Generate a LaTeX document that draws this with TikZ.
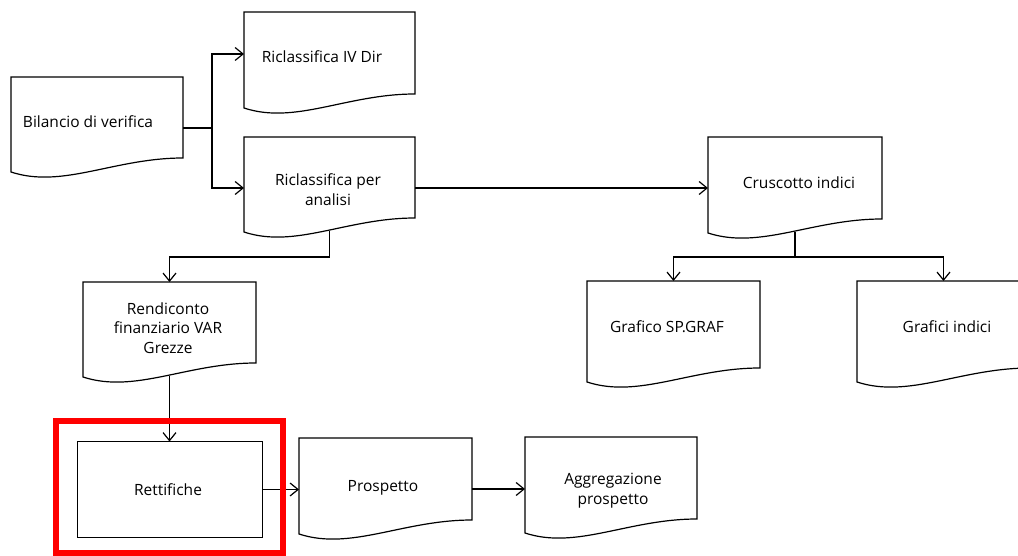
\documentclass[tikz,border=0pt]{standalone}
\usepackage{fontspec}
\setmainfont{Open Sans}
\usetikzlibrary{calc,arrows.meta}
\newcommand\docoutline[1]{\draw[line] (#1.north west) -- (#1.north east) -- (#1.south east)
  .. controls ($(#1.south west)!0.6!(#1.south east)$) and ($(#1.south west)!0.3!(#1.south east)+(0,-31)$)
  .. ($(#1.south west)+(0,-14)$) -- cycle;}
\begin{document}
\begin{tikzpicture}[x=1pt,y=1pt,
  line/.style={draw=black, line width=1.2pt, line join=miter},
  arr/.style={line, -{Straight Barb[length=8pt,width=13pt]}},
  box/.style={inner sep=0pt, outer sep=0pt},
  txt/.style={font=\fontsize{15.5}{19.5}\selectfont, align=center, inner sep=0pt},
  hl/.style={draw=red, line width=6pt, inner sep=0pt}]
\useasboundingbox (0,0) rectangle (1018,-556);
\clip (0,0) rectangle (1018,-556);

% boxes
\node[box, minimum width=172pt, minimum height=81pt] (bil)   at (97,-117.5) {};
\node[box, minimum width=171pt, minimum height=82pt] (ivdir) at (329.5,-53) {};
\node[box, minimum width=171pt, minimum height=81pt] (ricl)  at (329.5,-177.5) {};
\node[box, minimum width=174pt, minimum height=82pt] (crusc) at (795,-178) {};
\node[box, minimum width=173pt, minimum height=81pt] (rend)  at (169.5,-322.5) {};
\node[box, minimum width=173pt, minimum height=87pt] (graf)  at (673.5,-324.5) {};
\node[box, minimum width=173pt, minimum height=87pt] (grind) at (943.5,-324.5) {};
\node[box, draw, line width=1pt, minimum width=185pt, minimum height=96pt] (rett) at (169.5,-489.5) {};
\node[box, minimum width=173pt, minimum height=82pt] (pros)  at (385.5,-479) {};
\node[box, minimum width=172pt, minimum height=82pt] (aggr)  at (611,-478) {};

\foreach \n in {bil,ivdir,ricl,crusc,rend,graf,grind,pros,aggr} {\docoutline{\n}}

% texts
\node[txt] (bilt)   at (88,-122)    {Bilancio di verifica};
\node[txt] (ivdirt) at (322,-57)    {Riclassifica IV Dir};
\node[txt] (riclt)  at (328,-189.5) {Riclassifica per\\analisi};
\node[txt] (crusct) at (799,-183)   {Cruscotto indici};
\node[txt] (rendt)  at (168,-328)   {Rendiconto\\finanziario VAR\\Grezze};
\node[txt] (graft)  at (667,-327)   {Grafico SP.GRAF};
\node[txt] (grindt) at (947,-327)   {Grafici indici};
\node[txt] (rettt)  at (168,-490)   {Rettifiche};
\node[txt] (prost)  at (383,-488)   {Prospetto};
\node[txt] (aggrt)  at (613,-490.5) {Aggregazione\\prospetto};

% connector end points on the shapes
\coordinate (bilout)  at ($(bil.east)+(0,-10.5)$);
\coordinate (riclout) at ($(ricl.east)+(0,-10.5)$);
\coordinate (prosout) at ($(pros.east)+(0,-10)$);

% connectors
\draw[arr] (bilout) -- ++(29,0) |- ($(ivdir.west)+(0,-1)$);
\draw[arr] (bilout) -- ++(29,0) |- ($(ricl.west)+(0,-10.5)$);
\draw[arr] (riclout) -- (riclout -| crusc.west);
\draw[arr] ($(ricl.south)+(0,-13)$) -- ++(0,-26) -| (rend.north);
\draw[arr] ($(crusc.south)+(0,-13)$) -- ++(0,-25) -| (graf.north);
\draw[arr] ($(crusc.south)+(0,-13)$) -- ++(0,-25) -| (grind.north);
\draw[arr] ($(rend.south)+(0,-13)$) -- (rett.north);
\draw[arr] (rett.east) -- (rett.east -| pros.west);
\draw[arr] (prosout) -- (prosout -| aggr.west);

% highlight
\node[hl, minimum width=226.5pt, minimum height=132pt] (hilite) at (169.25,-487) {};
\end{tikzpicture}
\end{document}
